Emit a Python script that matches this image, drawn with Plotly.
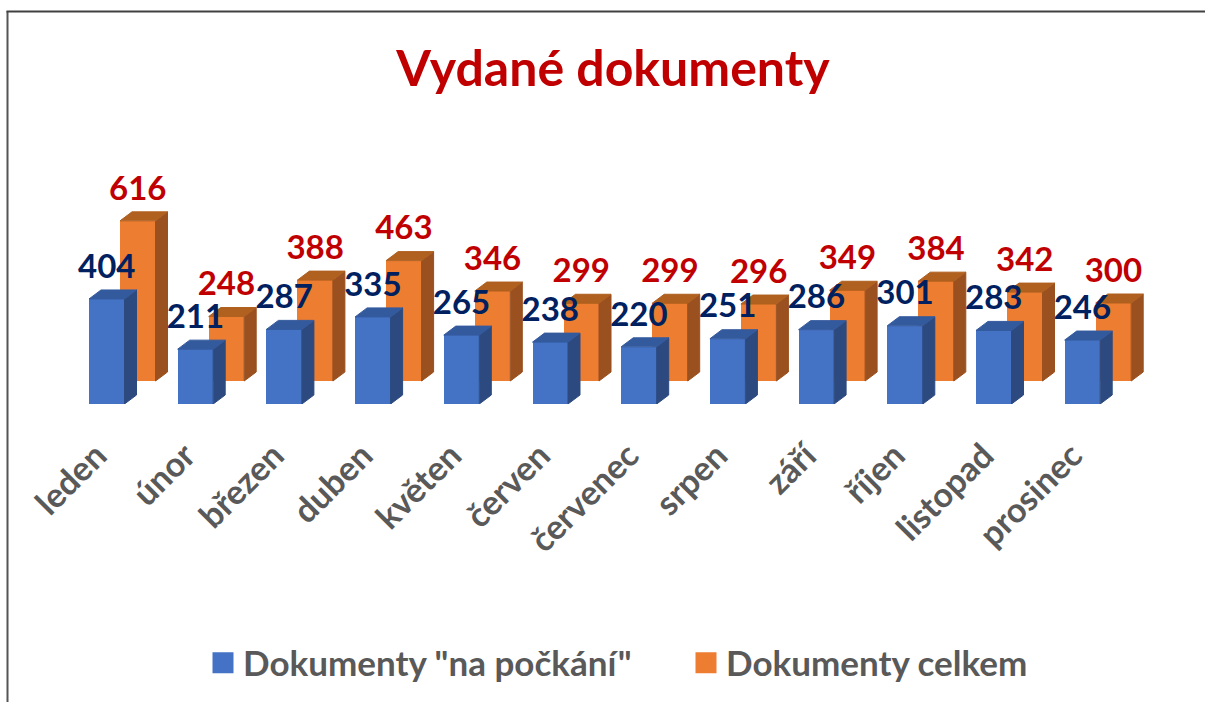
import plotly.graph_objects as go

months = ["leden", "únor", "březen", "duben", "květen", "červen", "červenec", "srpen", "září", "říjen", "listopad", "prosinec"]
na_pockani = [404, 211, 287, 335, 265, 238, 220, 251, 286, 301, 283, 246]
celkem = [616, 248, 388, 463, 346, 299, 299, 296, 349, 384, 342, 300]
title_text = "Vydané dokumenty"
series_names = ['Dokumenty "na počkání"', "Dokumenty celkem"]

W, H = 1205, 702
PX_X = 88.7
PX_Y = 0.26
BAR_W = 35.5 / PX_X
DEPTH_X = 12 / PX_X
DEPTH_Y = 9 / PX_Y
ORANGE_DX = 31 / PX_X
ORANGE_BASE = 23 / PX_Y
LABEL_UP = 29.5 / PX_Y
TICK_SHIFT = 10 / PX_X
FONT = "Lato"

idx = list(range(len(months)))
fig = go.Figure()


def faces(xs, tops, base):
    sx, sy, tx, ty = [], [], [], []
    for c, v in zip(xs, tops):
        l, r = c - BAR_W / 2, c + BAR_W / 2
        t = base + v
        sx += [r, r + DEPTH_X, r + DEPTH_X, r, r, None]
        sy += [base, base + DEPTH_Y, t + DEPTH_Y, t, base, None]
        tx += [l, l + DEPTH_X, r + DEPTH_X, r, l, None]
        ty += [t, t + DEPTH_Y, t + DEPTH_Y, t, t, None]
    return sx, sy, tx, ty


def series(vals, xs, base, front, side, top, xa, ya):
    fig.add_trace(go.Bar(x=xs, y=vals, base=base, width=BAR_W, marker=dict(color=front, line=dict(width=0)),
                         showlegend=False, xaxis=xa, yaxis=ya))
    sx, sy, tx, ty = faces(xs, vals, base)
    for px, py, col in ((sx, sy, side), (tx, ty, top)):
        fig.add_trace(go.Scatter(x=px, y=py, mode="lines", fill="toself", fillcolor=col,
                                 line=dict(width=1, color=col),
                                 showlegend=False, hoverinfo="skip", xaxis=xa, yaxis=ya))


ox = [i + ORANGE_DX for i in idx]
series(celkem, ox, ORANGE_BASE, "#ED7D31", "#9A501F", "#B0601F", "x", "y")
series(na_pockani, idx, 0, "#4472C4", "#2C4A80", "#345A9E", "x2", "y2")

fig.add_trace(go.Scatter(x=ox, y=[ORANGE_BASE + v + LABEL_UP for v in celkem], mode="text",
                         text=[str(v) for v in celkem], textposition="middle center", cliponaxis=False,
                         textfont=dict(family=FONT, size=33, color="#C00000", weight="bold"),
                         showlegend=False, xaxis="x2", yaxis="y2"))
fig.add_trace(go.Scatter(x=idx, y=[v + LABEL_UP for v in na_pockani], mode="text",
                         text=[str(v) for v in na_pockani], textposition="middle center", cliponaxis=False,
                         textfont=dict(family=FONT, size=33, color="#002060", weight="bold"),
                         showlegend=False, xaxis="x2", yaxis="y2"))

for name, col in zip(series_names, ("#4472C4", "#ED7D31")):
    fig.add_trace(go.Scatter(x=[None], y=[None], mode="markers", name=name,
                             marker=dict(symbol="square", size=16, color=col, line=dict(color=col, width=5))))

xr = [-106.75 / PX_X, (W - 106.75) / PX_X]
yr = [0, 404 / PX_Y]
dom_y = [(H - 404) / H, 1]
fig.update_layout(
    width=W, height=H, margin=dict(l=0, r=0, t=0, b=0), autosize=False,
    paper_bgcolor="white", plot_bgcolor="rgba(0,0,0,0)", barmode="overlay", bargap=0,
    xaxis=dict(range=xr, tickmode="array", tickvals=[i - TICK_SHIFT for i in idx], ticktext=months,
               tickangle=-45, showgrid=False, zeroline=False, showline=False, ticks="", ticklabelstandoff=24,
               tickfont=dict(family=FONT, size=34, color="#595959", weight="bold")),
    yaxis=dict(range=yr, domain=dom_y, visible=False),
    xaxis2=dict(range=xr, overlaying="x", visible=False),
    yaxis2=dict(range=yr, domain=dom_y, overlaying="y", visible=False),
    title=dict(text=title_text, x=613 / W, xanchor="center", y=1 - 68 / H, yanchor="middle",
               font=dict(family=FONT, size=50, color="#C00000", weight="bold")),
    legend=dict(orientation="h", x=203 / W, xanchor="left", y=1 - 663 / H, yanchor="middle",
                entrywidth=438, entrywidthmode="pixels",
                font=dict(family=FONT, size=35, color="#595959", weight="bold"),
                bgcolor="rgba(0,0,0,0)", itemclick=False, itemdoubleclick=False),
    shapes=[
        dict(type="line", xref="paper", yref="paper", x0=7.5 / W, x1=7.5 / W, y0=0, y1=1 - 11 / H,
             line=dict(color="#555555", width=2)),
        dict(type="line", xref="paper", yref="paper", x0=6.5 / W, x1=1, y0=1 - 11.5 / H, y1=1 - 11.5 / H,
             line=dict(color="#404040", width=2)),
    ],
)
fig.write_html("out.html", config={"displayModeBar": False}, post_script="document.body.style.margin='0';")
